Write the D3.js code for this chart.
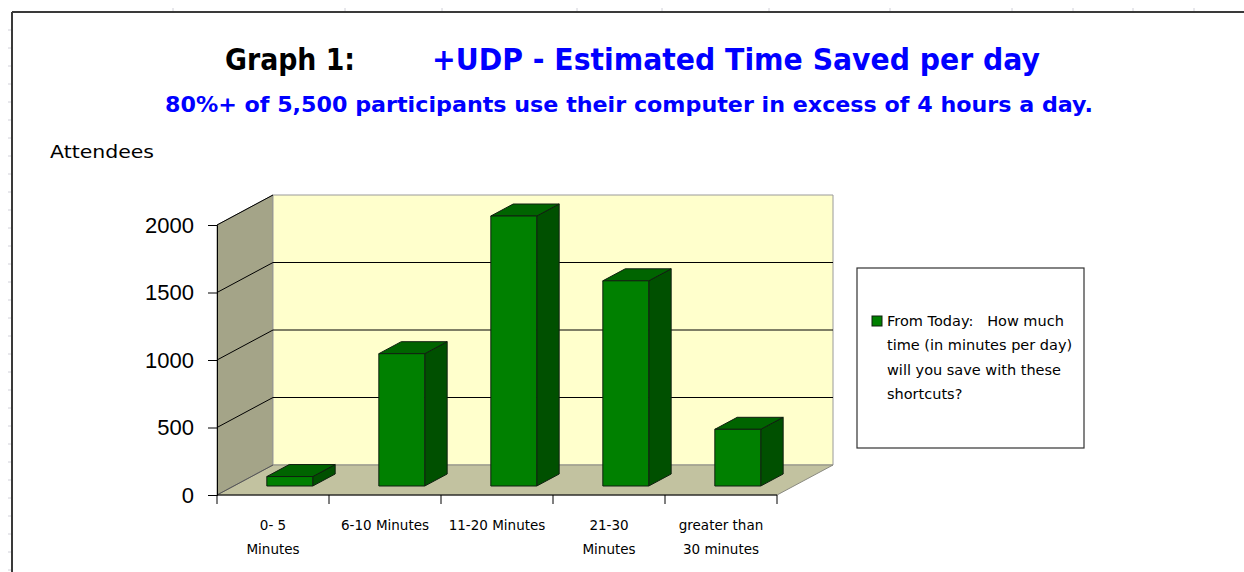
<!DOCTYPE html>
<html>
<head>
<meta charset="utf-8">
<script src="https://cdn.jsdelivr.net/npm/d3@7"></script>
<style>
  body { margin: 0; background: #fff; }
  svg { display: block; }
  .comic { font-family: "Comic Sans MS", "DejaVu Sans", sans-serif; }
</style>
</head>
<body>
<svg id="chart" width="1244" height="572"></svg>
<script>
// data
var categories = ["0- 5 Minutes", "6-10 Minutes", "11-20 Minutes", "21-30 Minutes", "greater than 30 minutes"];
var labelLines = [["0- 5", "Minutes"], ["6-10 Minutes"], ["11-20 Minutes"], ["21-30", "Minutes"], ["greater than", "30 minutes"]];
var attendees = [70, 980, 2000, 1520, 420];
var yTicks = [0, 500, 1000, 1500, 2000];
var legendLines = ["From Today:   How much", "time (in minutes per day)", "will you save with these", "shortcuts?"];

var svg = d3.select("#chart");

// 3d offsets of the plot box
var depthX = 56, depthY = 30;
var barFront = 0.3, barBack = 0.7;

var x = d3.scaleBand().domain(categories).range([217, 777]);
var y = d3.scaleLinear().domain([0, 2000]).range([495, 225]);

function pt(px, py, d) { return [px + d * depthX, py - d * depthY]; }
function poly(points) { return points.map(function(p){ return p.join(","); }).join(" "); }

// sheet frame
svg.append("line").attr("x1", 12).attr("y1", 12).attr("x2", 1244).attr("y2", 12)
  .attr("stroke", "#3a3a3a").attr("stroke-width", 2);
svg.append("line").attr("x1", 12).attr("y1", 12).attr("x2", 12).attr("y2", 572)
  .attr("stroke", "#3a3a3a").attr("stroke-width", 2);
// faint spreadsheet cell marks
[173, 345, 442, 577, 662, 769, 890, 1012, 1073, 1133, 1194].forEach(function(v){
  svg.append("line").attr("x1", v).attr("x2", v).attr("y1", 8).attr("y2", 11).attr("stroke", "#d0d0d8");
});
d3.range(30, 572, 18).forEach(function(v){
  svg.append("line").attr("x1", 8).attr("x2", 11).attr("y1", v).attr("y2", v).attr("stroke", "#d0d0d8");
});

// titles
var t = svg.append("text").attr("class", "comic").attr("y", 70)
  .attr("font-size", 31).attr("font-weight", "bold");
t.append("tspan").attr("x", 225).attr("fill", "#000").attr("textLength", 130)
  .attr("lengthAdjust", "spacingAndGlyphs").text("Graph 1:");
t.append("tspan").attr("x", 432).attr("fill", "#0000ff").attr("textLength", 608)
  .attr("lengthAdjust", "spacingAndGlyphs").text("+UDP - Estimated Time Saved per day");

svg.append("text").attr("class", "comic").attr("x", 165).attr("y", 112)
  .attr("font-size", 22).attr("font-weight", "bold").attr("fill", "#0000ff")
  .attr("textLength", 928).attr("lengthAdjust", "spacingAndGlyphs")
  .text("80%+ of 5,500 participants use their computer in excess of 4 hours a day.");

svg.append("text").attr("class", "comic").attr("x", 50).attr("y", 158)
  .attr("font-size", 17).attr("fill", "#000")
  .attr("textLength", 104).attr("lengthAdjust", "spacingAndGlyphs").text("Attendees");

// walls
var x0 = x.range()[0], x1 = x.range()[1];
var yTop = y(2000), yBase = y(0);
svg.append("polygon")
  .attr("points", poly([pt(x0, yBase, 0), pt(x0, yTop, 0), pt(x0, yTop, 1), pt(x0, yBase, 1)]))
  .attr("fill", "#a4a488").attr("stroke", "#8a8a80");
svg.append("polygon")
  .attr("points", poly([pt(x0, yTop, 1), pt(x1, yTop, 1), pt(x1, yBase, 1), pt(x0, yBase, 1)]))
  .attr("fill", "#ffffcc").attr("stroke", "#9a9a9a");
svg.append("polygon")
  .attr("points", poly([pt(x0, yBase, 0), pt(x1, yBase, 0), pt(x1, yBase, 1), pt(x0, yBase, 1)]))
  .attr("fill", "#c2c2a0").attr("stroke", "#8a8a80");

// gridlines on side and back walls
yTicks.filter(function(v){ return v > 0 && v < 2000; }).forEach(function(v){
  var a = pt(x0, y(v), 0), b = pt(x0, y(v), 1), c = pt(x1, y(v), 1);
  svg.append("polyline").attr("points", poly([a, b, c]))
    .attr("fill", "none").attr("stroke", "#000").attr("stroke-width", 1);
});
svg.append("line").attr("x1", x0).attr("y1", yTop).attr("x2", pt(x0, yTop, 1)[0]).attr("y2", pt(x0, yTop, 1)[1])
  .attr("stroke", "#000");
svg.append("line").attr("x1", x0).attr("y1", yBase).attr("x2", pt(x0, yBase, 1)[0]).attr("y2", pt(x0, yBase, 1)[1])
  .attr("stroke", "#555");

// bars
var barW = x.bandwidth() * 0.41;
var bars = svg.append("g").selectAll("g").data(attendees).join("g");
bars.each(function(v, i){
  var g = d3.select(this);
  var left = x(categories[i]) + (x.bandwidth() - barW) / 2;
  var right = left + barW;
  var top = y(v);
  var fl = pt(left, yBase, barFront), fr = pt(right, yBase, barFront);
  var ftl = pt(left, top, barFront), ftr = pt(right, top, barFront);
  var bbr = pt(right, yBase, barBack), btr = pt(right, top, barBack), btl = pt(left, top, barBack);
  g.append("polygon").attr("points", poly([fr, ftr, btr, bbr]))
    .attr("fill", "#005000").attr("stroke", "#102010").attr("stroke-width", 1);
  g.append("polygon").attr("points", poly([ftl, ftr, btr, btl]))
    .attr("fill", "#006400").attr("stroke", "#102010").attr("stroke-width", 1);
  g.append("polygon").attr("points", poly([fl, ftl, ftr, fr]))
    .attr("fill", "#008000").attr("stroke", "#102010").attr("stroke-width", 1);
});

// y axis
var yAxis = svg.append("g").attr("transform", "translate(" + x0 + ",0)")
  .call(d3.axisLeft(y).tickValues(yTicks).tickSize(9).tickPadding(14).tickFormat(d3.format("d")));
yAxis.select(".domain").attr("stroke", "#000");
yAxis.selectAll("line").attr("stroke", "#000");
yAxis.selectAll("text").attr("font-family", "Liberation Sans, Arial, sans-serif")
  .attr("font-size", 22).attr("fill", "#000");

// x axis along front floor edge
var xAxis = svg.append("g").attr("transform", "translate(0," + yBase + ")");
xAxis.append("line").attr("x1", x0).attr("x2", x1).attr("stroke", "#000");
xAxis.selectAll("line.tick").data(categories.concat(["end"])).join("line")
  .attr("class", "tick")
  .attr("x1", function(d){ return d === "end" ? x1 : x(d); })
  .attr("x2", function(d){ return d === "end" ? x1 : x(d); })
  .attr("y1", 0).attr("y2", 9).attr("stroke", "#000");
var xl = xAxis.selectAll("text").data(labelLines).join("text")
  .attr("class", "comic").attr("font-size", 13.5).attr("fill", "#000")
  .attr("text-anchor", "middle")
  .attr("transform", function(d, i){ return "translate(" + (x(categories[i]) + x.bandwidth() / 2) + ",35)"; });
xl.selectAll("tspan").data(function(d){ return d; }).join("tspan")
  .attr("x", 0).attr("dy", function(d, j){ return j === 0 ? 0 : 24; })
  .text(function(d){ return d; });

// legend
var lg = svg.append("g").attr("transform", "translate(857,268)");
lg.append("rect").attr("width", 227).attr("height", 180)
  .attr("fill", "#fff").attr("stroke", "#333").attr("stroke-width", 1.2);
lg.append("rect").attr("x", 15).attr("y", 48).attr("width", 10).attr("height", 10)
  .attr("fill", "#008000").attr("stroke", "#102010");
lg.append("text").attr("class", "comic").attr("font-size", 14.5).attr("fill", "#000")
  .selectAll("tspan").data(legendLines).join("tspan")
  .attr("x", 30).attr("y", function(d, i){ return 58 + i * 24.3; })
  .style("white-space", "pre")
  .text(function(d){ return d; });
</script>
</body>
</html>
